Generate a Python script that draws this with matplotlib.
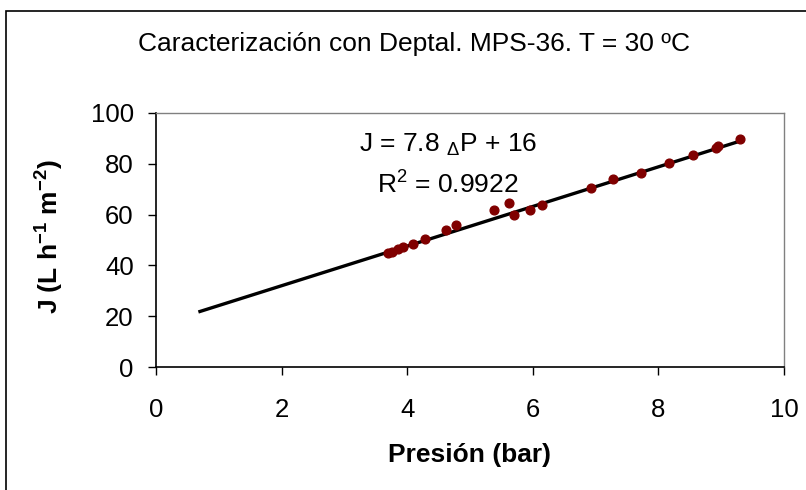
import numpy as np
import matplotlib
matplotlib.use("Agg")
import matplotlib.pyplot as plt
from matplotlib.patches import Rectangle

plt.rcParams['font.family'] = ['Liberation Sans', 'DejaVu Sans']
plt.rcParams['mathtext.fontset'] = 'custom'
plt.rcParams['mathtext.rm'] = 'Liberation Sans'
plt.rcParams['mathtext.it'] = 'Liberation Sans'
plt.rcParams['mathtext.bf'] = 'Liberation Sans:bold'

# measured points (pressure in bar, flux in L h-1 m-2)
presion = [3.70, 3.75, 3.86, 3.94, 4.10, 4.29, 4.62, 4.78, 5.38, 5.62,
           5.70, 5.95, 6.14, 6.92, 7.28, 7.73, 8.17, 8.55, 8.92, 8.95, 9.30]
flujo = [45.0, 45.1, 46.5, 47.1, 48.4, 50.4, 53.9, 55.8, 61.8, 64.7,
         59.7, 61.8, 63.8, 70.6, 73.9, 76.5, 80.4, 83.3, 86.3, 86.9, 89.6]

# trendline as given in the chart label
pendiente = 7.8
ordenada = 16.4
trend_x = [0.7, 9.3]

titulo = "Caracterización con Deptal. MPS-36. T = 30 ºC"
xticks = [0, 2, 4, 6, 8, 10]
yticks = [0, 20, 40, 60, 80, 100]

W, H = 806, 490
fig = plt.figure(figsize=(W / 100, H / 100), dpi=100)
ax = fig.add_axes([156 / W, 123 / H, 628 / W, 254 / H])

# outer chart border (runs off the right and bottom edges)
fig.patches.append(Rectangle((6 / W, -0.1), 1.2, (479 / H) + 0.1,
                             transform=fig.transFigure, fill=False,
                             edgecolor='black', linewidth=1.2))

tx = np.array(trend_x)
ax.plot(tx, pendiente * tx + ordenada, color='black', linewidth=2.4, zorder=2)
ax.plot(presion, flujo, 'o', color='#800000', markersize=6.3, zorder=3)

ax.set_xlim(0, 10)
ax.set_ylim(0, 100)
ax.set_xticks(xticks)
ax.set_yticks(yticks)
ax.tick_params(axis='both', direction='out', length=6, width=1,
               labelsize=18.5, color='black')
ax.tick_params(axis='x', pad=16)
ax.tick_params(axis='y', pad=10)

for s in ['left', 'bottom']:
    ax.spines[s].set_color('black')
    ax.spines[s].set_linewidth(1.2)
for s in ['top', 'right']:
    ax.spines[s].set_color('#808080')
    ax.spines[s].set_linewidth(1.0)

fig.text(470 / W, 1 - 455 / H, "Presión (bar)", ha='center', va='center',
         fontsize=19, fontweight='bold')
fig.text(50 / W, 1 - 237 / H, r"J (L h$^{\mathbf{-1}}$ m$^{\mathbf{-2}}$)",
         rotation=90, ha='center', va='center', fontsize=19,
         fontweight='bold')

fig.text(414 / W, 1 - 51.5 / H, titulo, ha='center', va='baseline',
         fontsize=19)

ax.text(4.65, 84.6, r"J = 7.8 $_{\Delta}$P + 16", ha='center',
        va='baseline', fontsize=19)
ax.text(4.65, 68.1, r"R$^{2}$ = 0.9922", ha='center', va='baseline',
        fontsize=19)

fig.savefig("out.png", dpi=100)
